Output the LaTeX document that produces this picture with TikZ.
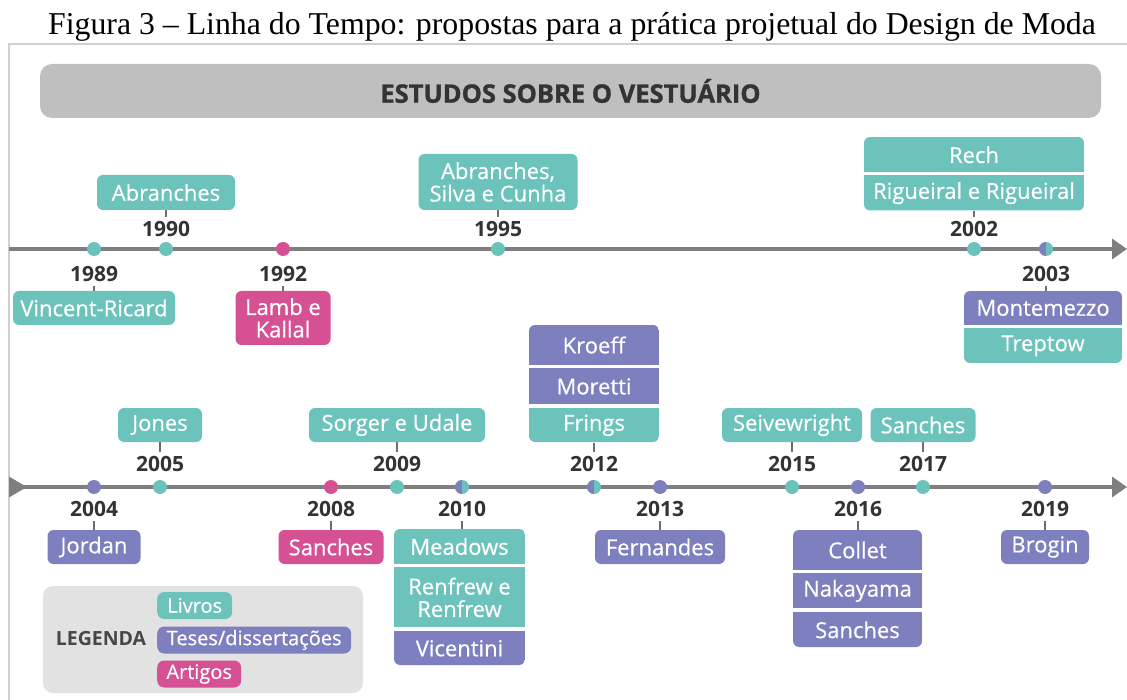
\documentclass[tikz,border=0pt]{standalone}
\usepackage{fontspec}
\setmainfont{Liberation Serif}
\newfontfamily\osans{Open Sans}
\newfontfamily\osansmd{Open Sans}[FakeBold=0.5]
\newfontfamily\osanshv{Open Sans}[BoldFeatures={FakeBold=1.2}]
\usetikzlibrary{positioning,arrows.meta}

\definecolor{livro}{HTML}{6CC3BC}
\definecolor{tese}{HTML}{7E7FBE}
\definecolor{artigo}{HTML}{D65094}
\definecolor{eixo}{HTML}{7F7F7F}
\definecolor{traco}{HTML}{6E6E6E}
\definecolor{cabec}{HTML}{BFBFBF}
\definecolor{fundoleg}{HTML}{E2E2E2}
\definecolor{moldura}{HTML}{D0D0D0}
\definecolor{escuro}{HTML}{333333}

\newcommand\lblfont{\osansmd\fontsize{22}{22.5}\selectfont}
\newcommand\yrfont{\osans\bfseries\fontsize{21}{21}\selectfont}
\newcommand\hdrfont{\osanshv\bfseries\fontsize{25.5}{26}\selectfont}
\newcommand\legfont{\osans\bfseries\fontsize{19.5}{20}\selectfont}
\newcommand\chipfont{\osansmd\fontsize{20}{20}\selectfont}

\tikzset{
  lbl/.style={fill=#1, rounded corners=6pt, text=white, font=\lblfont,
    inner sep=0pt, minimum height=34pt, align=center},
  cell/.style={fill=#1, text=white, font=\lblfont, inner sep=0pt, align=center},
  dot/.style={circle, fill=#1, minimum size=14pt, inner sep=0pt},
  halfdot/.style={circle, fill=livro, minimum size=14pt, inner sep=0pt,
    path picture={\fill[tese] (path picture bounding box.south west)
      rectangle (path picture bounding box.north);}},
  yr/.style={font=\yrfont, text=escuro, inner sep=0pt},
  tick/.style={draw=traco, line width=2.5pt, shorten >=4pt},
  axis/.style={draw=eixo, line width=3.5pt},
  chip/.style={fill=#1, rounded corners=7pt, text=white, font=\chipfont,
    inner sep=0pt, minimum height=27pt, anchor=west},
}

\begin{document}
\begin{tikzpicture}[x=1pt, y=-1pt]

\useasboundingbox (0,0) rectangle (1127,700);

% titulo e moldura
\node[font=\fontsize{31.8}{33}\selectfont, anchor=base] (tit) at (572,35)
  {Figura 3 – Linha do Tempo: propostas para a prática projetual do Design de Moda};
\draw[moldura, line width=2pt] (9,700) -- (9,44) -- (1127,44);

\node[fill=cabec, rounded corners=12pt, minimum width=1061pt, minimum height=54pt,
  font=\hdrfont, text=escuro] (hdr) at (570.5,91) {ESTUDOS SOBRE O VESTUÁRIO};

% linha de cima
\coordinate (t0) at (9,249);
\coordinate (t1) at (1127,249);
\draw[axis, -{Triangle[length=15pt,width=20pt]}] (t0) -- (t1);

\node[dot=livro] (d1989) at (94,249) {};
\node[dot=livro] (d1990) at (166,249) {};
\node[dot=artigo] (d1992) at (283,249) {};
\node[dot=livro] (d1995) at (498,249) {};
\node[dot=livro] (d2002) at (974,249) {};
\node[halfdot] (d2003) at (1046,249) {};

\node[yr] (y1989) at (94,274) {1989};
\node[yr] (y1990) at (166,229) {1990};
\node[yr] (y1992) at (283,274) {1992};
\node[yr] (y1995) at (498,229) {1995};
\node[yr] (y2002) at (974,229) {2002};
\node[yr] (y2003) at (1046,274) {2003};

\node[lbl=livro, minimum width=138pt, minimum height=35pt] (abr) at (166,192.5) {Abranches};
\node[lbl=livro, minimum width=162pt] (vr) at (94,308) {Vincent-Ricard};
\node[lbl=artigo, minimum width=95pt, minimum height=54pt] (lk) at (283,318) {Lamb e\\Kallal};
\node[lbl=livro, minimum width=159pt, minimum height=56pt] (asc) at (498,182) {Abranches,\\Silva e Cunha};

\begin{scope}
  \clip[rounded corners=6pt] (864,137) rectangle (1084,210.5);
  \node[cell=livro, minimum width=220pt, minimum height=35.5pt] (rech) at (974,154.75) {Rech};
  \node[cell=livro, minimum width=220pt, minimum height=35.5pt, below=2.5pt of rech] (rig) {Rigueiral e Rigueiral};
\end{scope}

\begin{scope}
  \clip[rounded corners=6pt] (964,291) rectangle (1122,363);
  \node[cell=tese, minimum width=158pt, minimum height=34pt] (mont) at (1043,308) {Montemezzo};
  \node[cell=livro, minimum width=158pt, minimum height=35pt, below=3pt of mont] (trep) {Treptow};
\end{scope}

\draw[tick] (abr) -- (y1990);
\draw[tick] (vr) -- (y1989);
\draw[tick] (lk) -- (y1992);
\draw[tick] (asc) -- (y1995);
\draw[tick] (rig) -- (y2002);
\draw[tick] (y2003 |- mont.north) -- (y2003);

% linha de baixo
\coordinate (b0) at (9,487);
\coordinate (b1) at (1127,487);
\draw[axis, {Triangle[reversed,length=18pt,width=20pt]}-{Triangle[length=15pt,width=20pt]}] (b0) -- (b1);

\node[dot=tese] (d2004) at (94,487) {};
\node[dot=livro] (d2005) at (160,487) {};
\node[dot=artigo] (d2008) at (331,487) {};
\node[dot=livro] (d2009) at (397,487) {};
\node[halfdot] (d2010) at (462,487) {};
\node[halfdot] (d2012) at (594,487) {};
\node[dot=tese] (d2013) at (660,487) {};
\node[dot=livro] (d2015) at (792,487) {};
\node[dot=tese] (d2016) at (858,487) {};
\node[dot=livro] (d2017) at (923,487) {};
\node[dot=tese] (d2019) at (1045,487) {};

\node[yr] (y2004) at (94,509) {2004};
\node[yr] (y2005) at (160,464) {2005};
\node[yr] (y2008) at (331,509) {2008};
\node[yr] (y2009) at (397,464) {2009};
\node[yr] (y2010) at (462,509) {2010};
\node[yr] (y2012) at (594,464) {2012};
\node[yr] (y2013) at (660,509) {2013};
\node[yr] (y2015) at (792,464) {2015};
\node[yr] (y2016) at (858,509) {2016};
\node[yr] (y2017) at (923,464) {2017};
\node[yr] (y2019) at (1045,509) {2019};

\node[lbl=livro, minimum width=84pt] (jones) at (160,425) {Jones};
\node[lbl=livro, minimum width=176pt] (sorger) at (397,425) {Sorger e Udale};
\node[lbl=livro, minimum width=140pt] (seiv) at (792,425) {Seivewright};
\node[lbl=livro, minimum width=105pt] (san17) at (923,425) {Sanches};
\node[lbl=tese, minimum width=93pt] (jordan) at (94,547) {Jordan};
\node[lbl=artigo, minimum width=105pt] (san08) at (331,547) {Sanches};
\node[lbl=tese, minimum width=130pt] (fern) at (660,547) {Fernandes};
\node[lbl=tese, minimum width=88pt] (brogin) at (1045,547) {Brogin};

\begin{scope}
  \clip[rounded corners=6pt] (529,325) rectangle (659,442);
  \node[cell=tese, minimum width=130pt, minimum height=40pt] (kroeff) at (594,345) {Kroeff};
  \node[cell=tese, minimum width=130pt, minimum height=36pt, below=3pt of kroeff] (moretti) {Moretti};
  \node[cell=livro, minimum width=130pt, minimum height=35pt, below=3pt of moretti] (frings) {Frings};
\end{scope}

\begin{scope}
  \clip[rounded corners=6pt] (394,529) rectangle (525,665);
  \node[cell=livro, minimum width=131pt, minimum height=35pt] (meadows) at (459.5,546.5) {Meadows};
  \node[cell=livro, minimum width=131pt, minimum height=60pt, below=3pt of meadows] (renfrew) {Renfrew e\\Renfrew};
  \node[cell=tese, minimum width=131pt, minimum height=35pt, below=3pt of renfrew] (vicentini) {Vicentini};
\end{scope}

\begin{scope}
  \clip[rounded corners=6pt] (793,530) rectangle (922,647);
  \node[cell=tese, minimum width=129pt, minimum height=40pt] (collet) at (857.5,550) {Collet};
  \node[cell=tese, minimum width=129pt, minimum height=35pt, below=3pt of collet] (nakayama) {Nakayama};
  \node[cell=tese, minimum width=129pt, minimum height=36pt, below=3pt of nakayama] (sanches16) {Sanches};
\end{scope}

\draw[tick] (jones) -- (y2005);
\draw[tick] (sorger) -- (y2009);
\draw[tick] (frings) -- (y2012);
\draw[tick] (seiv) -- (y2015);
\draw[tick] (san17) -- (y2017);
\draw[tick] (jordan) -- (y2004);
\draw[tick] (san08) -- (y2008);
\draw[tick] (y2010 |- meadows.north) -- (y2010);
\draw[tick] (fern) -- (y2013);
\draw[tick] (y2016 |- collet.north) -- (y2016);
\draw[tick] (brogin) -- (y2019);

% legenda
\node[fill=fundoleg, rounded corners=10pt, minimum width=320pt, minimum height=107pt,
  inner sep=0pt] (leg) at (203,639.5) {};
\node[font=\legfont, text=escuro!90, inner sep=0pt] (legtit) at (101,639) {LEGENDA};
\node[chip=livro, minimum width=75pt] (cliv) at (157,605.5) {Livros};
\node[chip=tese, minimum width=194pt] (ctes) at (157,640) {Teses/dissertações};
\node[chip=artigo, minimum width=84pt] (cart) at (157,674) {Artigos};

\end{tikzpicture}
\end{document}
